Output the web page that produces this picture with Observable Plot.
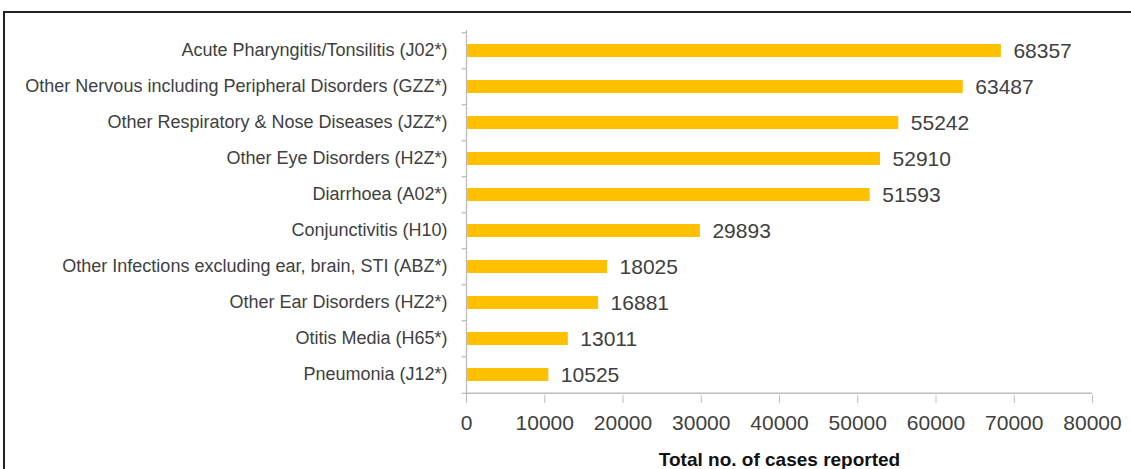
<!DOCTYPE html>
<html><head><meta charset="utf-8">
<script src="https://cdn.jsdelivr.net/npm/d3@7"></script>
<script src="https://cdn.jsdelivr.net/npm/@observablehq/plot@0.6"></script>
<style>
body{margin:0;background:#fff;width:1131px;height:469px;overflow:hidden;position:relative;font-family:"Liberation Sans",Arial,sans-serif}
#frame{position:absolute;left:3px;top:11px;width:1140px;height:470px;border-top:2px solid #222;border-left:2px solid #222}
#chart{position:absolute;left:0;top:0}
</style></head><body>
<div id="frame"></div>
<div id="chart"></div>
<script>
const categories = [
  "Acute Pharyngitis/Tonsilitis (J02*)",
  "Other Nervous including Peripheral Disorders (GZZ*)",
  "Other Respiratory & Nose Diseases (JZZ*)",
  "Other Eye Disorders (H2Z*)",
  "Diarrhoea (A02*)",
  "Conjunctivitis (H10)",
  "Other Infections excluding ear, brain, STI (ABZ*)",
  "Other Ear Disorders (HZ2*)",
  "Otitis Media (H65*)",
  "Pneumonia (J12*)"
];
const values = [68357, 63487, 55242, 52910, 51593, 29893, 18025, 16881, 13011, 10525];
const xTicks = [0,10000,20000,30000,40000,50000,60000,70000,80000];
const xTitle = "Total no. of cases reported";

const data = categories.map((c,i)=>({cat:c, v:values[i]}));
const H = 469, mt = 30, mb = 74;
const step = (H - mt - mb) / categories.length;

const plot = Plot.plot({
  width: 1131, height: H,
  marginLeft: 466, marginRight: 39, marginTop: mt, marginBottom: mb,
  style: {fontFamily: "Liberation Sans, Arial, sans-serif", color: "#404040", background: "transparent"},
  x: {domain: [0, 80000], ticks: xTicks, tickFormat: d => String(d), label: null},
  y: {domain: categories, paddingInner: 0.63, paddingOuter: 0.315, label: null},
  marks: [
    Plot.barX(data, {y: "cat", x: "v", fill: "#FFC000"}),
    Plot.text(data, {y: "cat", x: "v", text: d => String(d.v), textAnchor: "start", dx: 12, dy: 0, fontSize: 21, fill: "#404040"}),
    Plot.ruleX([0], {stroke: "#bdbdbd", strokeWidth: 1.3}),
    Plot.ruleY([categories[categories.length-1]], {y: d => d, x1: 0, x2: 80000, dy: step/2, stroke: "#bdbdbd", strokeWidth: 1.3}),
    Plot.ruleY(categories, {y: d => d, x1: -550, x2: 0, dy: -step/2, stroke: "#bdbdbd", strokeWidth: 1.3}),
    Plot.ruleY([categories[categories.length-1]], {y: d => d, x1: -550, x2: 0, dy: step/2, stroke: "#bdbdbd", strokeWidth: 1.3}),
    Plot.axisX({ticks: xTicks, tickFormat: d => String(d), tickSize: 8, stroke: "#bdbdbd", tickPadding: 12, fontSize: 21, fill: "#404040", label: null}),
    Plot.axisY({tickSize: 0, tickPadding: 19, fontSize: 18, fill: "#404040", label: null, dy: -1}),
    Plot.text([xTitle], {frameAnchor: "bottom", dy: 70, fontWeight: "bold", fontSize: 19, fill: "#111"})
  ]
});
document.getElementById("chart").appendChild(plot);
</script>
</body></html>
